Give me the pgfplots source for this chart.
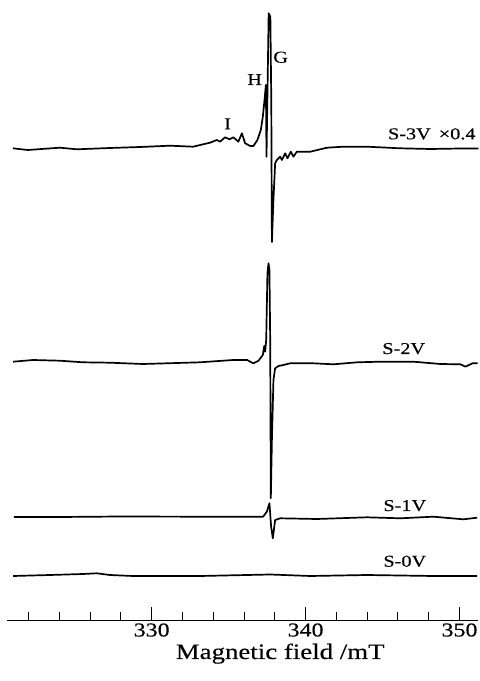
\documentclass[border=0pt]{standalone}
\usepackage{fontspec}
\setmainfont{Liberation Serif}[FakeStretch=1.22,FakeBold=0.3]
\usepackage{pgfplots}
\pgfplotsset{compat=1.18}
\begin{document}
\begin{tikzpicture}
\begin{axis}[
 scale only axis, width=235.5pt, height=310pt,
 xmin=320.6, xmax=351.2, ymin=0, ymax=620,
 axis x line=bottom, axis y line=none,
 x axis line style={-, line width=0.5pt},
 xtick={330,340,350}, minor xtick={322,324,...,348},
 tick align=inside, major tick length=6.5pt, minor tick length=4pt,
 tick style={line width=0.5pt, black},
 xticklabel style={font=\fontsize{9.8}{11}\selectfont, inner sep=0pt, anchor=north, yshift=-1.5pt},
 /pgf/number format/assume math mode=true,
 ytick=\empty,
 xlabel={Magnetic field /mT},
 xlabel style={at={(axis description cs:0.58,0)}, anchor=base, yshift=-19.5pt, font=\fontsize{11}{12}\selectfont, inner sep=0pt},
 clip=false,
]
% S-3V x0.4
\addplot[black, line width=0.85pt, line join=round] coordinates {
(320.98,471.7) (321.95,470) (324.03,472.3) (325.14,470.7) (327.29,472) (329.24,473)
(331.19,474.3) (332.69,473.3) (333.34,475.7) (333.79,477.3) (334.23,480) (334.44,478.3)
(334.77,482.7) (335.05,480.7) (335.31,482.7) (335.63,478.3) (335.86,486.7) (336.07,476.7)
(336.40,474) (336.61,474) (336.87,480) (337.09,490) (337.22,503.3) (337.33,520)
(337.42,535) (337.46,463.3) (337.60,606.7) (337.71,603.3) (337.77,520) (337.81,378)
(337.91,420) (338.02,456.7) (338.13,460) (338.35,463.3) (338.46,460) (338.67,466.7)
(338.82,461.7) (339.04,468.3) (339.21,463.3) (339.43,468.3) (340.30,468.3) (341.39,472.3)
(342.45,473.3) (343.99,473.3) (346.15,471.7) (348.11,471) (350.06,471.5) (351.23,471.5)
};
% S-2V
\addplot[black, line width=0.85pt, line join=round] coordinates {
(321.00,258.3) (322.28,260) (324.03,259.3) (325.53,257.7) (327.29,257.3) (329.43,256)
(331.00,256.7) (333.14,257.7) (335.29,260) (336.20,260) (336.40,258.3) (336.61,256.7)
(336.94,259.3) (337.22,265) (337.31,274) (337.37,268.3) (337.44,280) (337.52,346.7)
(337.59,356.7) (337.65,350) (337.70,280) (337.74,121.7) (337.81,180) (337.91,240)
(338.02,251.7) (338.24,254) (338.56,255) (339.00,256.7) (340.49,256.7) (341.80,255.7)
(343.36,257.7) (344.85,258.3) (347.00,258.3) (348.76,256) (350.06,255.7) (350.38,253.3)
(350.84,256.7) (351.17,256.7)
};
% S-1V
\addplot[black, line width=0.85pt, line join=round] coordinates {
(321.04,103) (324.03,103) (327.94,103.5) (333.14,103.3) (336.40,103.3) (337.24,103.3)
(337.48,108.3) (337.65,116.7) (337.76,93.3) (337.87,81.7) (338.02,100) (338.35,101.7)
(340.74,101) (343.99,102.7) (346.15,101.7) (348.30,103.3) (350.25,100.7) (351.15,102.3)
};
% S-0V
\addplot[black, line width=0.85pt, line join=round] coordinates {
(321.00,44) (323.38,45) (325.53,46) (326.42,46.7) (327.29,45) (328.78,44)
(333.14,44) (337.70,45.5) (340.30,44) (343.99,45) (348.30,44) (351.15,44)
};
\node[anchor=base west, inner sep=0pt, font=\fontsize{8.3}{9}\selectfont] at (axis cs:345.33,480.7) {S-3V\hspace{4pt}×0.4};
\node[anchor=base, inner sep=0pt, font=\fontsize{8.3}{9}\selectfont] at (axis cs:338.38,557.3) {G};
\node[anchor=base, inner sep=0pt, font=\fontsize{8.3}{9}\selectfont] at (axis cs:336.69,535) {H};
\node[anchor=base, inner sep=0pt, font=\fontsize{8.3}{9}\selectfont] at (axis cs:334.93,490.7) {I};
\node[anchor=base west, inner sep=0pt, font=\fontsize{8.3}{9}\selectfont] at (axis cs:344.96,266) {S-2V};
\node[anchor=base west, inner sep=0pt, font=\fontsize{8.3}{9}\selectfont] at (axis cs:345.03,109) {S-1V};
\node[anchor=base west, inner sep=0pt, font=\fontsize{8.3}{9}\selectfont] at (axis cs:345.03,53.3) {S-0V};
\path (rel axis cs:0,1) ++(-3.5pt,0pt);
\path (rel axis cs:0,0) ++(-3.5pt,-30.5pt);
\path (rel axis cs:1,0) ++(0pt,-30.5pt);
\end{axis}
\end{tikzpicture}
\end{document}
